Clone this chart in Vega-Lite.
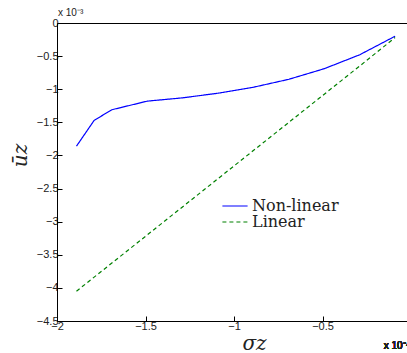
{
  "$schema": "https://vega.github.io/schema/vega-lite/v6.json",
  "autosize": "none",
  "width": 354,
  "height": 298,
  "padding": {"left": 57, "top": 23, "right": 0, "bottom": 32},
  "background": "white",
  "title": {"text": "x 10⁻³", "anchor": "start", "frame": "group", "font": "Liberation Sans", "fontSize": 10, "fontWeight": "normal", "color": "#222", "offset": 0, "dy": 11, "dx": 1, "baseline": "bottom"},
  "config": {
    "view": {"stroke": "black", "strokeWidth": 1},
    "axis": {"domainColor": "black", "tickColor": "black", "labelColor": "#222", "labelFont": "Liberation Sans", "labelFontSize": 11, "grid": false, "tickSize": -5, "labelOverlap": false, "labelFlush": false, "labelBound": false, "format": "~g", "titleFont": "DejaVu Serif", "titleFontStyle": "italic", "titleFontWeight": "normal", "titleFontSize": 20, "titleColor": "#222"}
  },
  "data": {"values": [
    {"x": -1.89, "y": -1.86, "series": "Non-linear"},
    {"x": -1.79, "y": -1.47, "series": "Non-linear"},
    {"x": -1.69, "y": -1.31, "series": "Non-linear"},
    {"x": -1.49, "y": -1.18, "series": "Non-linear"},
    {"x": -1.29, "y": -1.13, "series": "Non-linear"},
    {"x": -1.09, "y": -1.06, "series": "Non-linear"},
    {"x": -0.89, "y": -0.97, "series": "Non-linear"},
    {"x": -0.69, "y": -0.85, "series": "Non-linear"},
    {"x": -0.49, "y": -0.69, "series": "Non-linear"},
    {"x": -0.29, "y": -0.48, "series": "Non-linear"},
    {"x": -0.09, "y": -0.20, "series": "Non-linear"},
    {"x": -1.89, "y": -4.05, "series": "Linear"},
    {"x": -1.49, "y": -3.20, "series": "Linear"},
    {"x": -1.09, "y": -2.35, "series": "Linear"},
    {"x": -0.69, "y": -1.50, "series": "Linear"},
    {"x": -0.29, "y": -0.65, "series": "Linear"},
    {"x": -0.09, "y": -0.22, "series": "Linear"}
  ]},
  "layer": [
    {
      "mark": {"type": "line", "strokeWidth": 1.2},
      "encoding": {
        "x": {"field": "x", "type": "quantitative", "scale": {"domain": [-2, 0], "nice": false}, "axis": {"values": [-2, -1.5, -1, -0.5, 0], "title": "σz", "titleX": 197, "titlePadding": 2, "labelPadding": 4}},
        "y": {"field": "y", "type": "quantitative", "scale": {"domain": [-4.5, 0], "nice": false}, "axis": {"values": [-4.5, -4, -3.5, -3, -2.5, -2, -1.5, -1, -0.5, 0], "title": "ūz", "titleY": 132, "titlePadding": 6, "labelPadding": 4}},
        "color": {"field": "series", "type": "nominal", "scale": {"domain": ["Non-linear", "Linear"], "range": ["#0000ff", "#008000"]}, "legend": {"orient": "none", "legendX": 170, "legendY": 175, "title": null, "symbolType": "M-2.8,0H2.8", "symbolSize": 81, "symbolStrokeWidth": 1.2, "symbolFillColor": "transparent", "labelFont": "DejaVu Serif", "labelFontSize": 16, "labelColor": "#222", "rowPadding": 0, "labelOffset": 9}},
        "strokeDash": {"field": "series", "type": "nominal", "scale": {"domain": ["Non-linear", "Linear"], "range": [[1, 0], [4, 3]]}, "legend": null}
      }
    },
    {
      "mark": {"type": "text", "align": "left", "baseline": "bottom", "dy": 30, "font": "Liberation Sans", "fontSize": 10, "color": "#222"},
      "encoding": {
        "x": {"datum": -0.154, "type": "quantitative", "scale": {"domain": [-2, 0], "nice": false}, "axis": {"values": [-2, -1.5, -1, -0.5, 0], "title": "σz", "titleX": 197, "titlePadding": 2, "labelPadding": 4}},
        "y": {"datum": -4.5, "type": "quantitative", "scale": {"domain": [-4.5, 0], "nice": false}, "axis": {"values": [-4.5, -4, -3.5, -3, -2.5, -2, -1.5, -1, -0.5, 0], "title": "ūz", "titleY": 132, "titlePadding": 6, "labelPadding": 4}},
        "text": {"value": "x 10⁻⁴"}
      }
    }
  ]
}
